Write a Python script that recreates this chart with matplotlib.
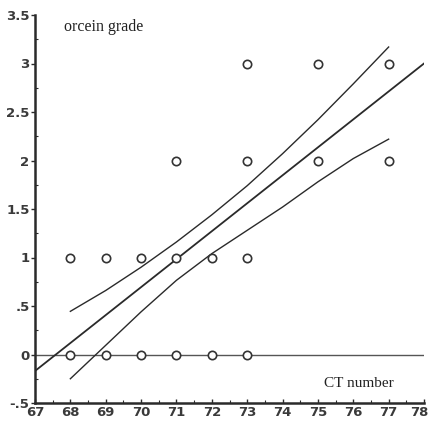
import matplotlib
matplotlib.use("Agg")
import matplotlib.pyplot as plt
import matplotlib.transforms as mtransforms
from matplotlib.ticker import MultipleLocator, FixedLocator, FuncFormatter

# Observed data (CT number vs orcein grade)
ct_x = [68, 69, 70, 71, 72, 73, 68, 69, 70, 71, 72, 73, 71, 73, 75, 77, 73, 75, 77]
grade_y = [1, 1, 1, 1, 1, 1, 0, 0, 0, 0, 0, 0, 2, 2, 2, 2, 3, 3, 3]

# Regression line end points
fit_x = [67, 78]
fit_y = [-0.17, 3.0]

# Confidence band
ci_x = [68, 69, 70, 71, 72, 73, 74, 75, 76, 77]
ci_upper = [0.445, 0.66, 0.90, 1.16, 1.44, 1.74, 2.07, 2.42, 2.79, 3.17]
ci_lower = [-0.25, 0.095, 0.44, 0.765, 1.04, 1.28, 1.52, 1.78, 2.02, 2.22]

# Zero reference line
zero_x = [67, 78]
zero_y = [0, 0]

x_ticks = list(range(67, 79))
y_ticks = [-0.5, 0, 0.5, 1, 1.5, 2, 2.5, 3, 3.5]
y_labels = ["-.5", "0", ".5", "1", "1.5", "2", "2.5", "3", "3.5"]

fig = plt.figure(figsize=(4.30, 4.24), dpi=100)
ax = fig.add_axes([35/430, 1-403/424, (424-35)/430, (403-15)/424])

dark = "#2a2a2a"
ax.plot(zero_x, zero_y, color="#555555", lw=1.0, zorder=1)
ax.plot(fit_x, fit_y, color=dark, lw=1.3, zorder=2)
ax.plot(ci_x, ci_upper, color=dark, lw=1.0, zorder=2)
ax.plot(ci_x, ci_lower, color=dark, lw=1.0, zorder=2)
ax.scatter(ct_x, grade_y, s=36, facecolors="white", edgecolors="#333333",
           linewidths=1.2, zorder=3)

ax.set_xlim(67, 78)
ax.set_ylim(-0.5, 3.5)

ax.xaxis.set_major_locator(FixedLocator(x_ticks))
ax.xaxis.set_minor_locator(MultipleLocator(0.5))
ax.yaxis.set_major_locator(FixedLocator(y_ticks))
ax.yaxis.set_major_formatter(FuncFormatter(lambda v, p: y_labels[y_ticks.index(round(v, 2))] if round(v, 2) in y_ticks else ""))
ax.yaxis.set_minor_locator(MultipleLocator(0.25))

for s in ["top", "right"]:
    ax.spines[s].set_visible(False)
for s in ["left", "bottom"]:
    ax.spines[s].set_linewidth(1.8)
    ax.spines[s].set_color(dark)

ax.tick_params(axis="y", which="major", direction="out", length=3, width=1,
               colors=dark, labelsize=9.5, pad=1)
ax.tick_params(axis="y", which="minor", direction="in", length=2.5, width=0.8, colors=dark)
ax.tick_params(axis="x", which="major", direction="in", length=3, width=1,
               colors=dark, labelsize=9.5, pad=2)
ax.tick_params(axis="x", which="minor", direction="in", length=2.5, width=0.8, colors=dark)

fig.canvas.draw()
xlabs = ax.get_xticklabels()
for lab in xlabs + ax.get_yticklabels():
    lab.set_fontweight("semibold")
    lab.set_color("#3a3a3a")
# nudge the last x label so it stays inside the image
last = xlabs[-1]
last.set_transform(last.get_transform() + mtransforms.ScaledTranslation(-5/100, 0, fig.dpi_scale_trans))

ax.text(67.82, 3.376, "orcein grade", family="Liberation Serif", fontsize=11.5,
        va="center", ha="left", color="#222222")
ax.text(75.16, -0.30, "CT number", family="Liberation Serif", fontsize=11,
        va="center", ha="left", color="#222222")

fig.savefig("out.png", dpi=100)
